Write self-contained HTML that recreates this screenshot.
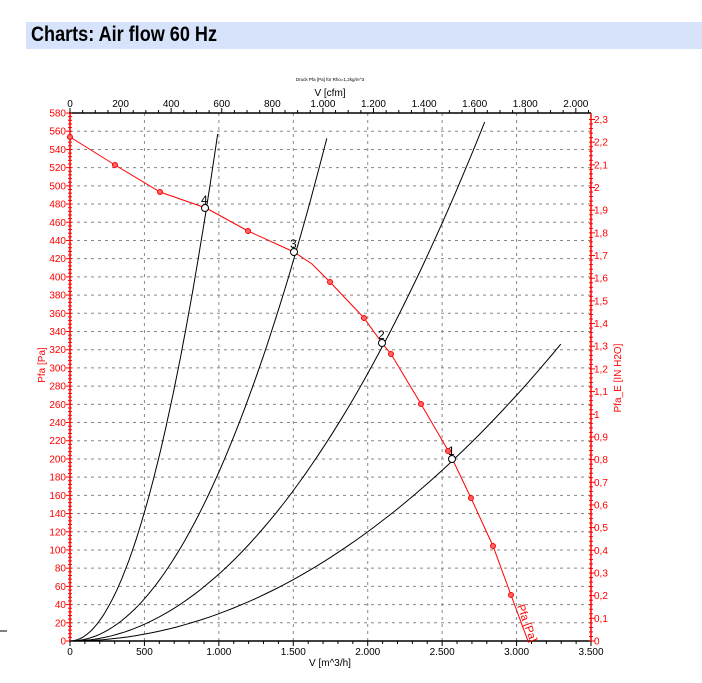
<!DOCTYPE html>
<html><head><meta charset="utf-8">
<style>
body{margin:0;background:#fff;width:702px;height:683px;overflow:hidden;font-family:"Liberation Sans",sans-serif;}
#hdr{position:absolute;left:26px;top:22px;width:676px;height:27px;background:#d6e3fb;}
#hdr span{position:absolute;left:5px;top:1px;font-weight:bold;font-size:21px;color:#000;transform:scaleX(0.86);transform-origin:left;white-space:nowrap;}
svg{position:absolute;left:0;top:0;}
</style></head><body>
<div id="hdr"><span>Charts: Air flow 60 Hz</span></div>
<svg id="s" width="702" height="683" xmlns="http://www.w3.org/2000/svg" font-family="Liberation Sans, sans-serif"></svg>
<script>
const s=document.getElementById('s');let h='';
const X=v=>70+v*0.14886, Y=p=>641-p*0.9103;
for(let p=20;p<=560;p+=20){h+=`<line x1="70" x2="591" y1="${Y(p)}" y2="${Y(p)}" stroke="#888" stroke-dasharray="3,4" stroke-width="1"/>`;}
for(let v=500;v<=3000;v+=500){h+=`<line y1="113" y2="641" x1="${X(v)}" x2="${X(v)}" stroke="#888" stroke-dasharray="3,4" stroke-width="1"/>`;}
h+=`<line x1="69" x2="591" y1="113" y2="113" stroke="#000" stroke-width="1.5"/>`;
h+=`<line x1="69" x2="591" y1="641" y2="641" stroke="#000" stroke-width="1.5"/>`;
h+=`<line x1="70" x2="70" y1="113" y2="641" stroke="#f00" stroke-width="1.5"/>`;
h+=`<line x1="591" x2="591" y1="113" y2="641" stroke="#f00" stroke-width="1.5"/>`;
for(let p=0;p<=580;p+=4){let y=Y(p);h+=`<line x1="${p%20==0?66:68}" x2="72" y1="${y}" y2="${y}" stroke="#f00"/>`;}
for(let p=0;p<=580;p+=20){h+=`<text x="66" y="${Y(p)+3.5}" font-size="10" fill="#f00" text-anchor="end">${p}</text>`;}
for(let i=0;i<=115;i++){let y=Y(i*0.02*249.09);h+=`<line x1="589" x2="${i%5==0?595:593}" y1="${y}" y2="${y}" stroke="#f00"/>`;}
for(let i=0;i<=23;i++){let y=Y(i*0.1*249.09);let t=i==0?'0':(i%10==0?String(i/10):(i/10).toFixed(1).replace('.',','));h+=`<text x="594" y="${y+3.5}" font-size="10" fill="#f00">${t}</text>`;}
for(let v=0;v<=3500;v+=100){let x=X(v);h+=`<line x1="${x}" x2="${x}" y1="641" y2="${v%500==0?646:644}" stroke="#000"/>`;}
const fmt=n=>n>=1000?(Math.floor(n/1000)+'.'+String(n%1000).padStart(3,'0')):String(n);
for(let v=0;v<=3500;v+=500){h+=`<text x="${X(v)}" y="655" font-size="10" text-anchor="middle">${fmt(v)}</text>`;}
for(let c=0;c<=2050;c+=50){let x=X(c*1.699);if(x>591)break;h+=`<line x1="${x}" x2="${x}" y1="113" y2="${c%200==0?108:110}" stroke="#000"/>`;}
for(let c=0;c<=2000;c+=200){h+=`<text x="${X(c*1.699)}" y="107" font-size="10" text-anchor="middle">${fmt(c)}</text>`;}
h+=`<text x="330" y="81" font-size="4.5" text-anchor="middle">Druck Pfa [Pa] für Rho=1,2kg/m^3</text>`;
h+=`<text x="330" y="96" font-size="10" text-anchor="middle">V [cfm]</text>`;
h+=`<text x="330" y="666" font-size="10" text-anchor="middle">V [m^3/h]</text>`;
h+=`<text transform="translate(45,365) rotate(-90)" font-size="10" fill="#f00" text-anchor="middle">Pfa [Pa]</text>`;
h+=`<text transform="translate(621,378) rotate(-90)" font-size="10" fill="#f00" text-anchor="middle">Pfa_E [IN H2O]</text>`;
h+=`<line x1="0" x2="7" y1="631" y2="631" stroke="#000"/>`;
const sys=[[2582,200,3297],[2110,327,2786],[1517,427,1725],[917,476,992]];
for(const [v0,p0,ve] of sys){let k=p0/(v0*v0);let pts=[];for(let i=0;i<=60;i++){let v=ve*i/60;pts.push(X(v).toFixed(1)+','+Y(k*v*v).toFixed(1));}h+=`<polyline points="${pts.join(' ')}" fill="none" stroke="#000" stroke-width="1"/>`;}
const R=[[70,137],[115,165],[160,192],[206,208],[248,231],[294,252],[312,264],[330,282],[364,318],[382,343],[391,354],[421,404],[449,452],[471,498],[493,546],[511,595],[528,641]];
h+=`<polyline points="${R.map(p=>p.join(',')).join(' ')}" fill="none" stroke="#f00" stroke-width="1"/>`;
[[70,137],[115,165],[160,192],[248,231],[330,282],[364,318],[391,354],[421,404],[448,451],[471,498],[493,546],[511,595]].forEach(p=>{h+=`<circle cx="${p[0]}" cy="${p[1]}" r="2.5" fill="#f66" stroke="#f00"/>`;});
[[205,208,'4'],[294,252,'3'],[382,343,'2'],[452,459,'1']].forEach(p=>{h+=`<circle cx="${p[0]}" cy="${p[1]}" r="3.5" fill="#fff" stroke="#000"/><text x="${p[0]-4}" y="${p[1]-4}" font-size="12">${p[2]}</text>`;});
h+=`<text transform="translate(517,606) rotate(70)" font-size="11" fill="#f00">Pfa [Pa]</text>`;
s.innerHTML=h;
</script>
</body></html>
